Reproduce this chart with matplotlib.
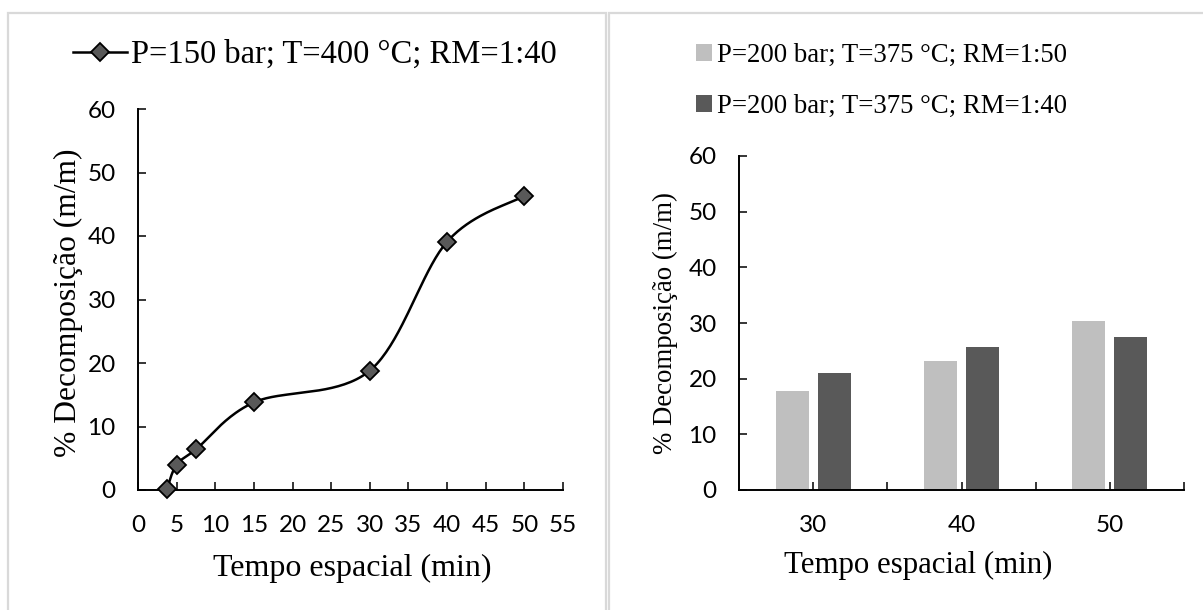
import numpy as np
import matplotlib
matplotlib.use("Agg")
import matplotlib.pyplot as plt
from matplotlib.patches import Rectangle, Patch
from matplotlib.lines import Line2D

# left panel: line chart
tempo = [3.75, 5, 7.5, 15, 30, 40, 50]
decomp = [0.2, 4.0, 6.4, 13.8, 18.8, 39.1, 46.3]
serie_linha = "P=150 bar; T=400 °C; RM=1:40"

# right panel: grouped bars
categorias = ["30", "40", "50"]
rm_50 = [17.7, 23.1, 30.4]
rm_40 = [21.1, 25.7, 27.5]
serie_50 = "P=200 bar; T=375 °C; RM=1:50"
serie_40 = "P=200 bar; T=375 °C; RM=1:40"

ylabel = "% Decomposição (m/m)"
xlabel = "Tempo espacial (min)"

W, H = 1203, 610
SERIF = "Liberation Serif"
SANS = "Lato"
CLARO = "#bfbfbf"
ESCURO = "#595959"


def px(x0, y0, x1, y1):
    # pixel box (top-left origin) -> figure fraction rect
    return [x0 / W, 1 - y1 / H, (x1 - x0) / W, (y1 - y0) / H]


def suaviza(x, y, n=40):
    # smoothed line like a spreadsheet "smooth line" (bezier through points)
    x = np.asarray(x, float)
    y = np.asarray(y, float)
    P = np.column_stack([x, y])
    P = np.vstack([P[0], P, P[-1]])
    out = []
    t = np.linspace(0, 1, n)[:, None]
    for i in range(1, len(P) - 2):
        p0, p1, p2, p3 = P[i - 1], P[i], P[i + 1], P[i + 2]
        c1 = p1 + (p2 - p0) / 6
        c2 = p2 - (p3 - p1) / 6
        seg = (1 - t) ** 3 * p1 + 3 * (1 - t) ** 2 * t * c1 + 3 * (1 - t) * t ** 2 * c2 + t ** 3 * p2
        out.append(seg)
    out = np.vstack(out)
    return out[:, 0], out[:, 1]


def estilo(ax):
    for s in ["top", "right"]:
        ax.spines[s].set_visible(False)
    for s in ["left", "bottom"]:
        ax.spines[s].set_linewidth(1.4)
        ax.spines[s].set_color("black")
    ax.tick_params(which="both", direction="in", length=6, width=1.1, colors="black",
                   labelsize=17.5)
    ax.tick_params(axis="x", which="both", pad=18)
    ax.tick_params(axis="y", pad=16)
    for lab in ax.get_xticklabels() + ax.get_yticklabels():
        lab.set_fontfamily(SANS)


fig = plt.figure(figsize=(W / 100, H / 100), dpi=100)

# panel frames
fig.patches.append(Rectangle((8 / W, -0.1), (606 - 8) / W, 1.1 - 13 / H, transform=fig.transFigure,
                             fill=False, edgecolor="#d9d9d9", linewidth=1.6))
fig.patches.append(Rectangle((609 / W, -0.1), 1.0, 1.1 - 13 / H, transform=fig.transFigure,
                             fill=False, edgecolor="#d9d9d9", linewidth=1.6))

# ---- left chart
ax1 = fig.add_axes(px(138, 109, 563, 490))
xs, ys = suaviza(tempo, decomp)
ax1.plot(xs, ys, color="black", linewidth=1.8, zorder=2)
ax1.plot(tempo, decomp, linestyle="none", marker="D", markersize=9, markerfacecolor=ESCURO,
         markeredgecolor="black", markeredgewidth=1.3, zorder=3, clip_on=False)
ax1.set_xlim(0, 55)
ax1.set_ylim(0, 60)
ax1.set_xticks(np.arange(0, 56, 5))
ax1.set_yticks(np.arange(0, 61, 10))
estilo(ax1)

fig.text(68 / W, 1 - 303 / H, ylabel, rotation=90, ha="center", va="center",
         family=SERIF, fontsize=22.7)
fig.text(352 / W, 1 - 568 / H, xlabel, ha="center", va="center", family=SERIF, fontsize=23)

h1 = Line2D([], [], color="black", linewidth=1.8, marker="D", markersize=9,
            markerfacecolor=ESCURO, markeredgecolor="black", markeredgewidth=1.3)
fig.legend([h1], [serie_linha], loc="center left", bbox_to_anchor=(73 / W, 1 - 55 / H),
           frameon=False, borderpad=0, borderaxespad=0, handlelength=1.65, handletextpad=0.12,
           prop={"family": SERIF, "size": 23.5})

# ---- right chart
ax2 = fig.add_axes(px(739, 156, 1184, 490))
pos = np.arange(len(categorias))
ax2.bar(pos - 0.1416, rm_50, width=0.2225, color=CLARO, zorder=2)
ax2.bar(pos + 0.1416, rm_40, width=0.2225, color=ESCURO, zorder=2)
ax2.set_xlim(-0.5, 2.5)
ax2.set_ylim(0, 60)
ax2.set_xticks(pos)
ax2.set_xticklabels(categorias)
ax2.set_xticks(pos + 0.5, minor=True)
ax2.set_yticks(np.arange(0, 61, 10))
estilo(ax2)

fig.text(665 / W, 1 - 323 / H, ylabel, rotation=90, ha="center", va="center",
         family=SERIF, fontsize=19.4)
fig.text(918 / W, 1 - 565 / H, xlabel, ha="center", va="center", family=SERIF, fontsize=22.2)

hs = [Patch(facecolor=CLARO, edgecolor="none"), Patch(facecolor=ESCURO, edgecolor="none")]
fig.legend(hs, [serie_50, serie_40], loc="center left", bbox_to_anchor=(696 / W, 1 - 81 / H),
           frameon=False, borderpad=0, borderaxespad=0, handlelength=0.6, handleheight=0.6,
           handletextpad=0.2, labelspacing=0.95, prop={"family": SERIF, "size": 19.3})

fig.savefig("out.png", dpi=100)
